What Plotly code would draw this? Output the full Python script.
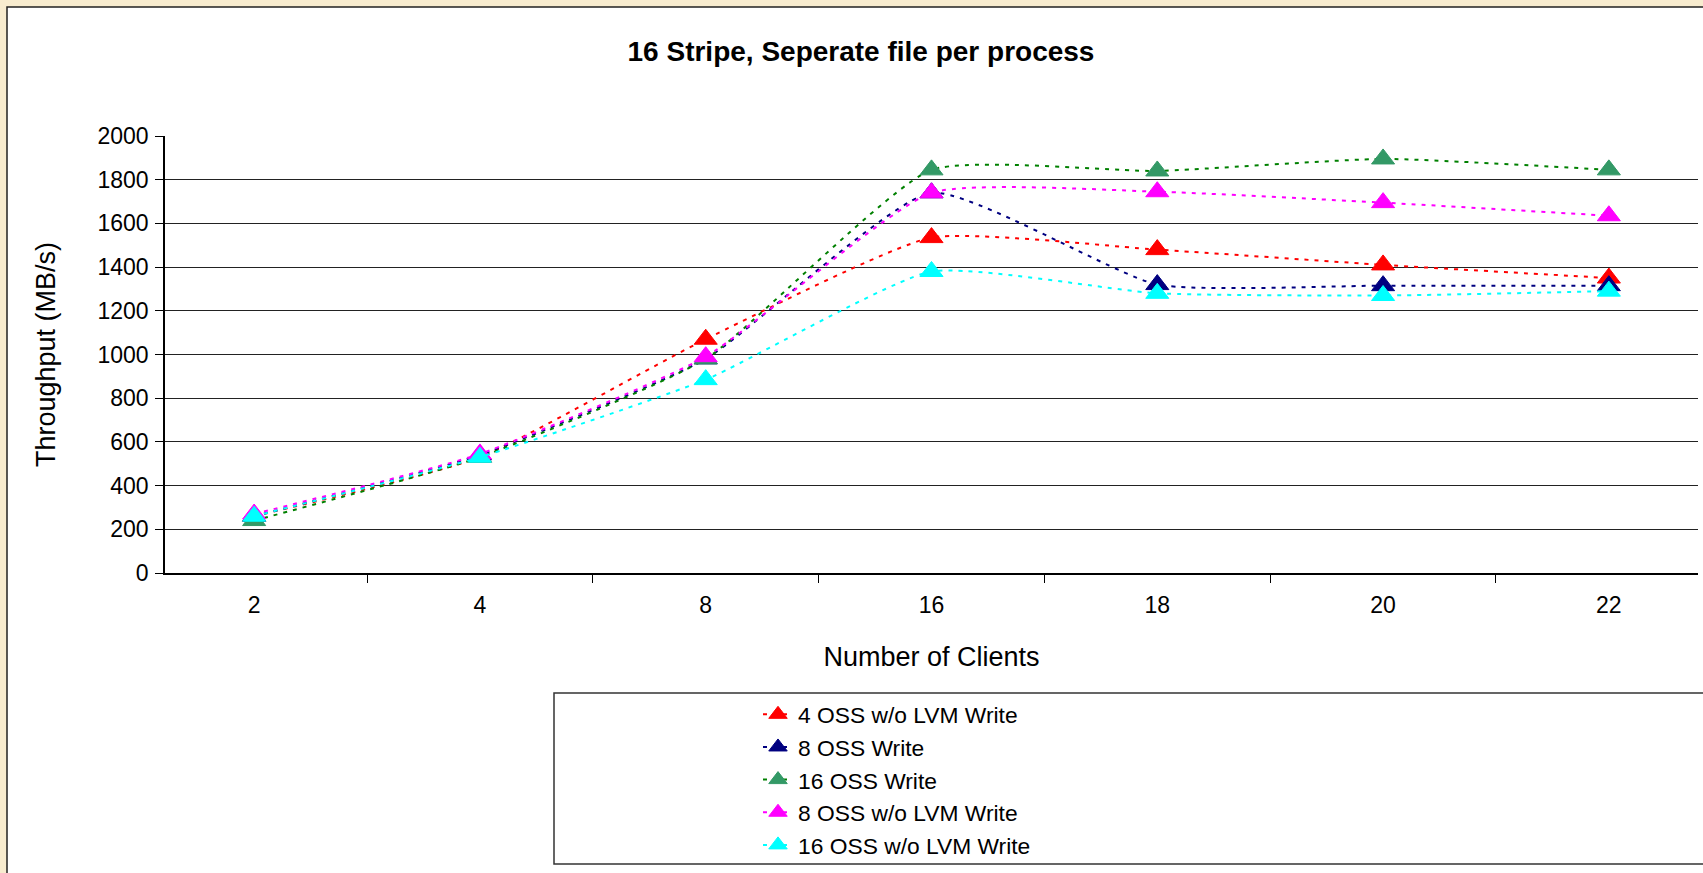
import plotly.graph_objects as go

clients = ["2", "4", "8", "16", "18", "20", "22"]
oss4_nolvm = [260, 530, 1070, 1535, 1480, 1410, 1350]
oss8 = [260, 540, 980, 1740, 1320, 1315, 1315]
oss16 = [240, 530, 980, 1845, 1840, 1895, 1845]
oss8_nolvm = [270, 545, 990, 1740, 1745, 1695, 1635]
oss16_nolvm = [260, 530, 885, 1380, 1280, 1270, 1290]

series = [
    ("4 OSS w/o LVM Write", oss4_nolvm, "#FF0000", "#FF0000"),
    ("8 OSS Write", oss8, "#000080", "#000080"),
    ("16 OSS Write", oss16, "#008000", "#339966"),
    ("8 OSS w/o LVM Write", oss8_nolvm, "#FF00FF", "#FF00FF"),
    ("16 OSS w/o LVM Write", oss16_nolvm, "#00FFFF", "#00FFFF"),
]

FONT = "Liberation Sans, Arial, sans-serif"
W, H = 1703, 873
L, R, T, B = 165, 5, 136, 300
PW = W - L - R
PH = H - T - B
BEIGE = "#F8ECCF"


def px_x(p):
    return (p - L) / PW


def px_y(p):
    return (H - B - p) / PH


fig = go.Figure()
for name, vals, lc, mc in series:
    fig.add_trace(go.Scatter(
        x=clients, y=vals, name=name, mode="lines+markers",
        line=dict(color=lc, width=2, dash="4px,6px", shape="spline", smoothing=0.5),
        marker=dict(symbol="triangle-up", size=20, color=mc, line=dict(color=mc, width=1)),
    ))

shapes = [
    dict(type="rect", xref="paper", yref="paper", layer="below",
         x0=px_x(7), x1=1.2, y0=-1.5, y1=px_y(7),
         fillcolor="white", line=dict(color="#222222", width=1.5)),
    dict(type="rect", xref="paper", yref="paper", layer="below",
         x0=px_x(554), x1=1.2, y0=px_y(864), y1=px_y(693),
         fillcolor="rgba(0,0,0,0)", line=dict(color="#333333", width=1.5)),
]

fig.update_layout(
    width=W, height=H,
    margin=dict(l=L, r=R, t=T, b=B, autoexpand=False),
    paper_bgcolor=BEIGE,
    plot_bgcolor="white",
    font=dict(family=FONT, color="black"),
    title=dict(text="<b>16 Stripe, Seperate file per process</b>",
               x=861 / W, xref="container", xanchor="center",
               y=1 - 51 / H, yref="container", yanchor="middle",
               font=dict(family=FONT, size=28, color="black")),
    shapes=shapes,
    showlegend=True,
    legend=dict(x=px_x(758), xanchor="left", y=px_y(693), yanchor="top",
                bgcolor="rgba(0,0,0,0)", borderwidth=0,
                font=dict(family=FONT, size=22.8, color="black"),
                tracegroupgap=0),
)

fig.update_xaxes(
    type="category", tickson="boundaries", ticks="outside", ticklen=8,
    tickcolor="black", showgrid=False, showline=True, linecolor="black", linewidth=2,
    tickfont=dict(family=FONT, size=23, color="black"),
    ticklabelstandoff=10,
    title=dict(text="Number of Clients", font=dict(family=FONT, size=27, color="black"), standoff=31),
    automargin=False,
)
fig.update_yaxes(
    range=[0, 2000], dtick=200, tick0=0, ticks="outside", ticklen=8, tickcolor="black",
    showgrid=True, gridcolor="#222222", gridwidth=1,
    showline=True, linecolor="black", linewidth=1.5, zeroline=False,
    tickfont=dict(family=FONT, size=23, color="black"),
    ticklabelstandoff=2,
    title=dict(text="Throughput (MB/s)", font=dict(family=FONT, size=27, color="black"), standoff=34),
    automargin=False,
)

fig.write_html(
    "out.html",
    config={"displayModeBar": False},
    post_script=("document.body.style.margin='0';"
                 "document.body.style.overflow='hidden';"
                 "document.body.style.background='" + BEIGE + "';"),
)
